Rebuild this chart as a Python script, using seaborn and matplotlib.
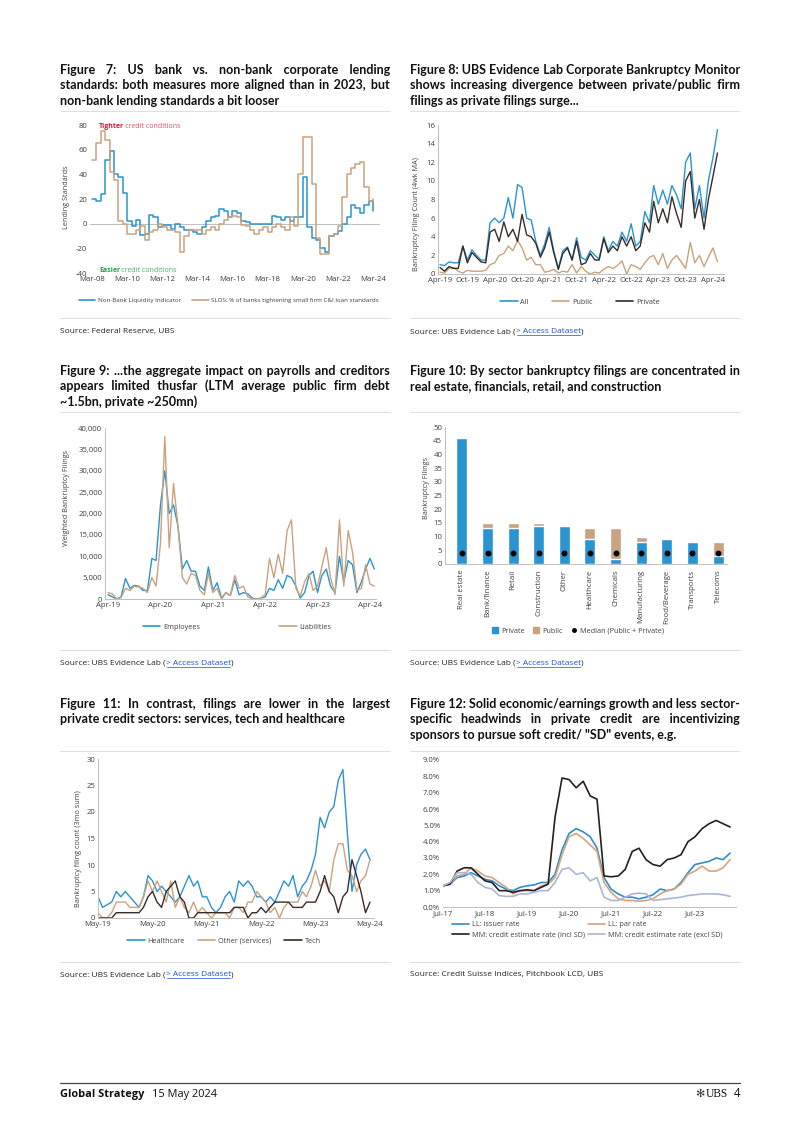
import pandas as pd
import matplotlib
matplotlib.use('Agg')
import matplotlib.pyplot as plt
import matplotlib.dates as mdates
from matplotlib.lines import Line2D
from matplotlib.patches import Patch
from matplotlib.ticker import FuncFormatter, MultipleLocator
from matplotlib import font_manager
import seaborn as sns

# ---------------- data ----------------
# Figure 7 (quarterly, Mar-08 .. Mar-24)
nonbank7 = [20, 18, 24, 52, 59, 40, 38, 25, 2, -2, 3, -9, -8, 7, 5, -3, -1, -1, -4, 0,
            -3, -5, -5, -7, -8, -3, 2, 5, 6, 12, 10, 5, 10, 9, 2, 1, 0, 0, 0, 0,
            0, 6, 5, 3, 5, 2, 5, 5, 38, -3, -12, -13, -20, -23, -10, -8, -6, 0, 5, 15,
            13, 9, 15, 18, 10]
slos7 = [52, 65, 75, 68, 42, 35, 2, 0, -8, -8, -5, -2, -13, -7, -5, 0, -3, -5, -5, -7,
         -23, -10, -5, -5, -5, -8, -5, -3, -5, 0, 3, 5, 6, 5, -1, -2, -5, -8, -5, -3,
         -7, -3, 0, -3, -5, 5, -2, 40, 70, 70, 32, -12, -25, -25, -10, -8, -2, 22, 40, 45,
         48, 50, 30, 18, 20]

# Figure 8 (monthly, Apr-19 .. May-24)
all8 = [1.0, 0.9, 1.3, 1.2, 1.2, 3.0, 1.5, 2.6, 2.0, 1.5,
        1.5, 5.5, 6.0, 5.5, 6.0, 8.2, 6.0, 9.6, 9.3, 6.0,
        5.8, 3.5, 2.0, 3.2, 5.0, 2.5, 0.6, 2.5, 2.9, 1.5,
        3.9, 1.8, 1.5, 2.5, 2.0, 1.6, 4.0, 2.5, 3.5, 3.0,
        4.5, 3.5, 5.4, 3.0, 3.5, 6.7, 5.5, 9.5, 7.5, 9.0,
        7.5, 9.5, 8.5, 7.0, 12.0, 13.0, 7.0, 9.5, 6.0, 10.0,
        12.5, 15.5]
public8 = [0.2, 0.1, 0.6, 0.7, 0.3, 0.1, 0.4, 0.3, 0.3, 0.3,
           0.4, 1.0, 1.2, 2.0, 2.2, 3.0, 2.5, 3.6, 2.8, 1.5,
           1.8, 1.0, 1.0, 0.2, 0.3, 0.5, 0.1, 0.3, 0.2, 1.0,
           0.1, 0.8, 0.3, 0.0, 0.2, 0.1, 0.5, 0.8, 0.6, 0.9,
           1.4, 0.0, 1.0, 0.8, 0.5, 1.2, 1.8, 2.0, 1.0, 2.2,
           0.6, 1.5, 2.0, 1.3, 0.6, 3.4, 1.2, 2.0, 0.8, 1.8,
           2.8, 1.3]
private8 = [0.7, 0.3, 0.8, 0.6, 0.6, 3.0, 1.2, 2.3, 1.8, 1.3,
            1.2, 4.5, 4.8, 3.5, 5.6, 4.0, 4.8, 3.5, 6.4, 4.2,
            4.0, 3.3, 1.8, 2.8, 4.5, 2.3, 0.5, 2.2, 2.8, 1.5,
            3.5, 1.0, 1.2, 2.2, 1.5, 1.5, 3.8, 2.3, 3.0, 2.5,
            4.0, 3.0, 4.0, 2.5, 3.0, 5.5, 4.5, 7.8, 5.5, 7.0,
            5.5, 8.3, 6.5, 5.0, 10.0, 11.0, 6.0, 8.0, 4.8, 8.0,
            10.5, 13.0]

# Figure 9 (monthly, Apr-19 .. May-24)
employees9 = [1000, 500, 0, 500, 4800, 2500, 3200, 3000, 2000, 2000,
              9500, 9000, 22000, 30000, 20000, 22000, 17000, 7000, 9000, 6500,
              6500, 3000, 2000, 7500, 2000, 3800, 200, 1500, 800, 4500,
              1000, 1500, 1200, 200, 0, 200, 500, 2500, 2000, 4500,
              2500, 5500, 5000, 3000, 200, 1500, 5500, 6500, 1500, 5500,
              7000, 3000, 1500, 10000, 4000, 9000, 8000, 1500, 4000, 7000,
              9500, 7000]
liabilities9 = [1500, 1200, 0, 300, 2500, 2000, 3000, 2800, 2500, 1500,
                5000, 3000, 13000, 38000, 12000, 27000, 17000, 5000, 3500, 6000,
                5500, 2000, 1000, 6000, 1500, 2500, 0, 1500, 800, 5500,
                2500, 3000, 500, 0, 0, 200, 1000, 9500, 5000, 10500,
                6000, 16000, 18500, 2500, 700, 4000, 6000, 2000, 3000, 7500,
                12000, 5000, 1000, 18500, 3000, 16000, 11000, 2000, 2500, 8000,
                3500, 3000]

# Figure 10
sectors = ['Real estate', 'Bank/finance', 'Retail', 'Construction', 'Other', 'Healthcare',
           'Chemicals', 'Manufacturing', 'Food/Beverage', 'Transports', 'Telecoms']
private10 = [46, 13, 13, 14, 14, 9, 2, 8, 9, 8, 3]
public10 = [0, 2, 2, 1, 0, 4, 11, 2, 0, 0, 5]
median10 = [4, 4, 4, 4, 4, 4, 4, 4, 4, 4, 4]

# Figure 11 (monthly, May-19 .. May-24)
health11 = [4, 2, 2.5, 3, 5, 4, 5, 4, 3, 2, 4, 8, 7, 5, 6, 5, 4, 3, 4, 6,
            8, 6, 7, 4, 4, 2, 1, 2, 4, 5, 3, 7, 6, 7, 6, 4, 4, 3, 4, 3,
            5, 7, 6, 8, 4, 6, 7, 9, 12, 19, 17, 20, 21, 26, 28, 16, 5, 10, 12, 13, 11]
other11 = [1, 0, 0, 1, 3, 3, 3, 2, 2, 2, 4, 7, 5, 7, 5, 3, 7, 2, 4, 2,
           1, 3, 1, 2, 1, 0, 1, 1, 1, 0, 2, 2, 1, 3, 3, 5, 4, 3, 1, 2,
           0, 2, 3, 3, 3, 5, 4, 6, 9, 6, 7, 5, 11, 14, 14, 9, 8, 5, 7, 8, 11]
tech11 = [0, 0, 0, 0, 1, 1, 1, 1, 1, 1, 2, 4, 5, 3, 2, 5, 6, 7, 4, 3,
          0, 0, 1, 1, 1, 1, 1, 1, 1, 1, 2, 2, 2, 0, 1, 1, 2, 1, 2, 3,
          3, 3, 3, 2, 2, 2, 3, 3, 3, 5, 8, 5, 4, 1, 4, 5, 11, 8, 5, 1, 3]

# Figure 12 (bi-monthly, Jul-17 .. May-24), in %
issuer12 = [1.3, 1.4, 1.8, 1.9, 2.1, 1.9, 1.7, 1.6, 1.3, 1.1,
            1.0, 1.2, 1.3, 1.35, 1.5, 1.5, 2.0, 3.5, 4.5, 4.8,
            4.6, 4.3, 3.6, 1.8, 1.1, 0.8, 0.6, 0.6, 0.5, 0.6,
            0.75, 1.1, 1.0, 1.1, 1.5, 2.1, 2.6, 2.7, 2.8, 3.0, 2.9, 3.3]
par12 = [1.3, 1.4, 1.9, 2.0, 2.4, 2.2, 1.9, 1.8, 1.5, 1.2,
         0.8, 1.0, 1.0, 1.0, 1.3, 1.4, 1.8, 3.2, 4.3, 4.5,
         4.2, 3.8, 3.4, 1.5, 0.9, 0.5, 0.4, 0.4, 0.35, 0.4,
         0.5, 0.8, 1.0, 1.1, 1.4, 2.0, 2.2, 2.5, 2.2, 2.2, 2.4, 2.9]
incl12 = [1.3, 1.4, 2.2, 2.4, 2.4, 2.0, 1.6, 1.5, 1.0, 1.0,
          0.9, 1.0, 1.05, 1.0, 1.2, 1.4, 5.5, 7.9, 7.8, 7.3,
          7.7, 6.8, 6.6, 1.9, 1.85, 1.9, 2.3, 3.4, 3.6, 2.9,
          2.6, 2.5, 2.9, 3.0, 3.2, 4.0, 4.3, 4.8, 5.1, 5.3, 5.1, 4.9]
excl12 = [1.3, 1.5, 2.1, 2.1, 2.0, 1.5, 1.2, 1.1, 0.7, 0.65,
          0.65, 0.8, 0.8, 0.9, 1.0, 1.0, 1.5, 2.3, 2.4, 2.0,
          2.1, 1.6, 1.8, 0.6, 0.4, 0.4, 0.6, 0.8, 0.85, 0.8,
          0.4, 0.45, 0.5, 0.55, 0.6, 0.7, 0.75, 0.8, 0.8, 0.8, 0.75, 0.65]

dates7 = pd.date_range('2008-03-01', periods=len(slos7), freq='3MS')
dates8 = pd.date_range('2019-04-01', periods=len(all8), freq='MS')
dates9 = pd.date_range('2019-04-01', periods=len(employees9), freq='MS')
dates11 = pd.date_range('2019-05-01', periods=len(health11), freq='MS')
dates12 = pd.date_range('2017-07-01', periods=len(issuer12), freq='2MS')

# ---------------- style ----------------
sns.set_style('white')
avail = {f.name for f in font_manager.fontManager.ttflist}
body = 'Open Sans' if 'Open Sans' in avail else 'DejaVu Sans'
plt.rcParams['font.family'] = [body, 'DejaVu Sans']
plt.rcParams['axes.unicode_minus'] = False
title_font = next((f for f in ['Lato', 'Roboto', 'Open Sans'] if f in avail), 'DejaVu Sans')

BLUE = '#2b93cf'
TAN = '#c9a27f'
DARK = '#3a2b25'
GRID = '#bfbfbf'
TICK = '#404040'

W, H = 802, 1134
fig = plt.figure(figsize=(W / 100, H / 100), dpi=100)
rend = fig.canvas.get_renderer()


def fx(x):
    return x / W


def fy(y):
    return 1 - y / H


def width_of(s, **kw):
    t = fig.text(0, 0, s, **kw)
    w = t.get_window_extent(rend).width
    t.remove()
    return w


HAIR = '\u200a'


def justified(lines, x0, x1, y0, step, size):
    # each line is one text; extra hair spaces between words stretch it to full width
    kw = dict(fontsize=size, fontweight='bold', family=[title_font, 'DejaVu Sans'], color='#111111')
    hs = (width_of('a' + HAIR * 40 + 'a', **kw) - width_of('aa', **kw)) / 40
    for i, line in enumerate(lines):
        words = line.split(' ')
        s = line
        if i < len(lines) - 1 and len(words) > 1:
            n = len(words) - 1
            k = max(0, round((x1 - x0 - width_of(line, **kw)) / hs))
            s = words[0]
            for j in range(n):
                s += ' ' + HAIR * (k * (j + 1) // n - k * j // n) + words[j + 1]
        fig.text(fx(x0), fy(y0 + i * step), s, va='baseline', **kw)


def pieces(x, y, parts, size):
    for txt, col, weight, ul in parts:
        t = fig.text(fx(x), fy(y), txt, color=col, fontsize=size, fontweight=weight, va='baseline')
        w = t.get_window_extent(rend).width
        if ul:
            fig.add_artist(Line2D([fx(x + 1), fx(x + w - 1)], [fy(y + 1.6)] * 2, color=col, lw=0.5,
                                  transform=fig.transFigure))
        x += w


def hline(x0, x1, y, color='#d9d9d9', lw=0.6):
    fig.add_artist(Line2D([fx(x0), fx(x1)], [fy(y), fy(y)], color=color, lw=lw, transform=fig.transFigure))


def add_ax(l, t, r, b):
    return fig.add_axes([fx(l), fy(b), (r - l) / W, (b - t) / H])


def date_axis(ax, ticks, d0, p0, d1, p1, left, right):
    n0, n1 = mdates.date2num(pd.Timestamp(d0)), mdates.date2num(pd.Timestamp(d1))
    s = (n1 - n0) / (p1 - p0)
    ax.set_xticks(ticks)
    ax.xaxis.set_major_formatter(mdates.DateFormatter('%b-%y'))
    ax.set_xlim(n0 + (left - p0) * s, n0 + (right - p0) * s)


def style(ax, bottom=True, left=True):
    sns.despine(ax=ax, top=True, right=True, left=not left, bottom=not bottom)
    for s in ['left', 'bottom']:
        ax.spines[s].set_color(GRID)
        ax.spines[s].set_linewidth(0.7)
    ax.tick_params(length=0, labelsize=5.6, colors=TICK, pad=2)
    ax.set_xlabel('')
    ax.set_ylabel('')


def ylab(x, y, s):
    fig.text(fx(x), fy(y), s, rotation=90, ha='center', va='center', fontsize=5.2, color=TICK)


def legend_at(ax, handles, labels, cx, cy, ncol, colsp=2.0, loc='center', **kw):
    opts = dict(frameon=False, fontsize=5.2, handlelength=2.4, handletextpad=0.4,
                borderaxespad=0, borderpad=0, labelcolor=TICK)
    opts.update(kw)
    ax.legend(handles, labels, loc=loc, bbox_to_anchor=(fx(cx), fy(cy)), bbox_transform=fig.transFigure,
              ncol=ncol, columnspacing=colsp, **opts)


def long(dates, series):
    return pd.DataFrame({'date': list(dates) * len(series),
                         'value': sum([v for v in series.values()], []),
                         'series': sum([[k] * len(v) for k, v in series.items()], [])})


def lh(c, lw=1.2):
    return Line2D([], [], color=c, lw=lw)


# ---------------- titles ----------------
TS = 9.4
titles = [
    (["Figure 7: US bank vs. non-bank corporate lending",
      "standards: both measures more aligned than in 2023, but",
      "non-bank lending standards a bit looser"], 60, 390, 74),
    (["Figure 8: UBS Evidence Lab Corporate Bankruptcy Monitor",
      "shows increasing divergence between private/public firm",
      "filings as private filings surge..."], 410, 740, 74),
    (["Figure 9: ...the aggregate impact on payrolls and creditors",
      "appears limited thusfar (LTM average public firm debt",
      "~1.5bn, private ~250mn)"], 60, 390, 375),
    (["Figure 10: By sector bankruptcy filings are concentrated in",
      "real estate, financials, retail, and construction"], 410, 740, 375),
    (["Figure 11: In contrast, filings are lower in the largest",
      "private credit sectors: services, tech and healthcare"], 60, 390, 708),
    (["Figure 12: Solid economic/earnings growth and less sector-",
      "specific headwinds in private credit are incentivizing",
      "sponsors to pursue soft credit/ \"SD\" events, e.g."], 410, 740, 708),
]
kwt = dict(fontsize=TS, fontweight='bold', family=[title_font, 'DejaVu Sans'])
widest = max(width_of(l, **kwt) for t in titles for l in t[0][:-1])
TS = TS * 329 / widest
for lines, x0, x1, y0 in titles:
    justified(lines, x0, x1, y0, 15.3, TS)

for y in (111, 412, 751):
    hline(60, 390, y)
    hline(410, 740, y)
for y in (318, 650, 962):
    hline(60, 390, y)
    hline(410, 740, y)

SS = 6.0
pieces(60, 333, [("Source: Federal Reserve, UBS", '#222222', 'normal', False)], SS)
for x, y in ((410, 333), (60, 665), (410, 665), (60, 976)):
    pieces(x, y, [("Source: UBS Evidence Lab (", '#222222', 'normal', False),
                  ("> Access Dataset", '#1a4fd6', 'normal', True),
                  (")", '#222222', 'normal', False)], SS)
pieces(410, 976, [("Source: Credit Suisse Indices, Pitchbook LCD, UBS", '#222222', 'normal', False)], SS)

# ---------------- Figure 7 ----------------
ax = add_ax(90, 125, 380, 273)
df = long(dates7, {'Non-Bank Liquidity Indicator': nonbank7,
                   'SLOS: % of banks tightening small firm C&I loan standards': slos7})
sns.lineplot(data=df, x='date', y='value', hue='series', palette=[BLUE, TAN], drawstyle='steps-post',
             lw=1.1, legend=False, errorbar=None, ax=ax)
ax.axhline(0, color=GRID, lw=0.7, zorder=0)
ax.set_ylim(-40, 80)
ax.yaxis.set_major_locator(MultipleLocator(20))
date_axis(ax, pd.date_range('2008-03-01', '2024-03-01', freq='24MS'), '2008-03-01', 92, '2024-03-01', 373, 90, 380)
style(ax, bottom=False, left=False)
ylab(67, 197, 'Lending Standards')
legend_at(ax, [lh(BLUE), lh(TAN)], ['Non-Bank Liquidity Indicator',
                                     'SLOS: % of banks tightening small firm C&I loan standards'],
          229, 300, 2, colsp=1.8, fontsize=4.5, handlelength=2.6)
pieces(99, 128, [("Tighter", '#d0202e', 'bold', False), ("\u2009credit conditions", '#e0505e', 'normal', False)], 5.0)
pieces(99, 272, [("Easier", '#22a04a', 'bold', False), ("\u2009credit conditions", '#3cb563', 'normal', False)], 5.0)

# ---------------- Figure 8 ----------------
ax = add_ax(438, 125, 724, 274)
df = long(dates8, {'All': all8, 'Public': public8, 'Private': private8})
sns.lineplot(data=df, x='date', y='value', hue='series', palette=[BLUE, TAN, DARK], lw=1.0,
             legend=False, errorbar=None, ax=ax)
ax.set_ylim(0, 16)
ax.yaxis.set_major_locator(MultipleLocator(2))
date_axis(ax, pd.date_range('2019-04-01', '2024-04-01', freq='6MS'), '2019-04-01', 440, '2024-04-01', 713, 438, 724)
style(ax)
ylab(417, 214, 'Bankruptcy Filing Count (4wk MA)')
legend_at(ax, [lh(BLUE), lh(TAN), lh(DARK)], ['All', 'Public', 'Private'], 580, 302, 3, colsp=3.2)

# ---------------- Figure 9 ----------------
ax = add_ax(105, 428, 376, 599)
df = long(dates9, {'Employees': employees9, 'Liabilities': liabilities9})
sns.lineplot(data=df, x='date', y='value', hue='series', palette=[BLUE, TAN], lw=1.0,
             legend=False, errorbar=None, ax=ax)
ax.set_ylim(0, 40000)
ax.yaxis.set_major_locator(MultipleLocator(5000))
ax.yaxis.set_major_formatter(FuncFormatter(lambda v, p: f'{int(v):,}'))
date_axis(ax, pd.date_range('2019-04-01', '2024-04-01', freq='12MS'), '2019-04-01', 108, '2024-04-01', 370, 105, 376)
style(ax)
ylab(67, 498, 'Weighted Bankruptcy Filings')
legend_at(ax, [lh(BLUE), lh(TAN)], ['Employees', 'Liabilities'], 237, 627, 2, colsp=11)

# ---------------- Figure 10 ----------------
ax = add_ax(445, 427, 727, 564)
totals10 = [a + b for a, b in zip(private10, public10)]
sns.barplot(x=sectors, y=totals10, color=TAN, width=0.43, saturation=1, ax=ax)
sns.barplot(x=sectors, y=private10, color=BLUE, width=0.43, saturation=1, ax=ax)
sns.pointplot(x=sectors, y=median10, color='black', linestyle='none', markers='o', markersize=2.2,
              errorbar=None, ax=ax)
ax.set_ylim(0, 50)
ax.set_xlim(-0.66, 10.35)
ax.yaxis.set_major_locator(MultipleLocator(5))
style(ax)
ax.tick_params(axis='x', rotation=90, pad=4)
ylab(426, 488, 'Bankruptcy Filings')
legend_at(ax, [Patch(color=BLUE), Patch(color=TAN),
               Line2D([], [], color='black', marker='o', ls='none', markersize=2.5)],
          ['Private', 'Public', 'Median (Public + Private)'], 578, 631, 3, colsp=1.2,
          handlelength=0.8, handleheight=0.8)

# ---------------- Figure 11 ----------------
ax = add_ax(98, 759, 374, 918)
df = long(dates11, {'Healthcare': health11, 'Other (services)': other11, 'Tech': tech11})
sns.lineplot(data=df, x='date', y='value', hue='series', palette=[BLUE, TAN, DARK], lw=1.0,
             legend=False, errorbar=None, ax=ax)
ax.set_ylim(0, 30)
ax.yaxis.set_major_locator(MultipleLocator(5))
date_axis(ax, pd.date_range('2019-05-01', '2024-05-01', freq='12MS'), '2019-05-01', 98, '2024-05-01', 370, 98, 374)
style(ax)
ylab(79, 849, 'Bankruptcy filing count (3mo sum)')
legend_at(ax, [lh(BLUE), lh(TAN), lh(DARK)], ['Healthcare', 'Other (services)', 'Tech'],
          224, 941, 3, colsp=1.8)

# ---------------- Figure 12 ----------------
ax = add_ax(443, 760, 736, 907)
df = long(dates12, {'LL: issuer rate': issuer12, 'LL: par rate': par12,
                    'MM: credit estimate rate (incl SD)': incl12,
                    'MM: credit estimate rate (excl SD)': excl12})
C12 = ['#2d8ec8', '#d6a47d', '#2a1d1d', '#a9b6d8']
sns.lineplot(data=df, x='date', y='value', hue='series', palette=C12, lw=1.2,
             legend=False, errorbar=None, ax=ax)
ax.set_ylim(0, 9)
ax.yaxis.set_major_locator(MultipleLocator(1))
ax.yaxis.set_major_formatter(FuncFormatter(lambda v, p: f'{v:.1f}%'))
date_axis(ax, pd.date_range('2017-07-01', '2023-07-01', freq='12MS'), '2017-07-01', 443, '2023-07-01', 695, 443, 736)
style(ax, left=False)
legend_at(ax, [lh(C12[0]), lh(C12[2]), lh(C12[1]), lh(C12[3])],
          ['LL: issuer rate', 'MM: credit estimate rate (incl SD)', 'LL: par rate',
           'MM: credit estimate rate (excl SD)'],
          452, 921, 2, colsp=0.4, loc='upper left')

# ---------------- footer ----------------
hline(60, 740, 1083, color='#444444', lw=0.9)
pieces(60, 1097, [("Global Strategy", '#111111', 'bold', False)], 7.9)
pieces(152, 1097, [("15 May 2024", '#111111', 'normal', False)], 7.9)
fig.text(fx(740), fy(1097), '4', ha='right', va='baseline', fontsize=8.3, color='#111111')
fig.text(fx(728), fy(1097), 'UBS', ha='right', va='baseline', fontsize=8.3, color='#111111',
         family=['Liberation Serif', 'DejaVu Serif'])
fig.text(fx(704), fy(1097), '\u273b', ha='right', va='baseline', fontsize=8, color='#333333',
         family=['DejaVu Sans'])

fig.savefig('out.png', dpi=100)
